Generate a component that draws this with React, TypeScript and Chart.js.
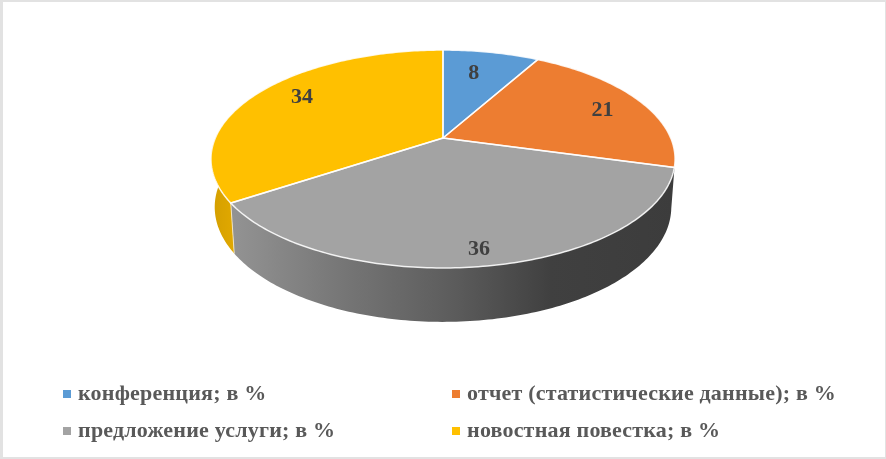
import React, { useEffect, useRef } from "react";
import { Chart, registerables } from "chart.js";

Chart.register(...registerables);

const categories = [
  "конференция; в %",
  "отчет (статистические данные); в %",
  "предложение услуги; в %",
  "новостная повестка; в %",
];
const shares = [8, 21, 36, 34];
const sliceColors = ["#5B9BD5", "#ED7D31", "#A3A3A3", "#FFC000"];

// Perspective projection of the unit disc on to the page
const P = 0.1927;
const CX = 443;
const TOP = { y: 138, bx: 227.7, ay: 104.9 };
const BOTTOM = { y: 185, bx: 224, ay: 110.5 };
const project = (angle: number, r: number, g: { y: number; bx: number; ay: number }) => {
  const a = angle + Math.PI / 2; // 0 = twelve o'clock
  const u = Math.sin(a) * r;
  const v = -Math.cos(a) * r;
  const w = 1 - P * v;
  return [CX + (g.bx * u) / w, g.y + (g.ay * v) / w];
};

const labelRadius = [0.75, 0.8, 0.88, 0.75];
const labelNudge = [[-7, 2], [1, 3], [-2, 2], [0, -6]];

const trace = (ctx: CanvasRenderingContext2D, from: number, to: number, g: typeof TOP, first: boolean) => {
  const n = Math.max(2, Math.ceil(Math.abs(to - from) * 60));
  for (let i = 0; i <= n; i++) {
    const [x, y] = project(from + ((to - from) * i) / n, 1, g);
    if (i === 0 && first) ctx.moveTo(x, y);
    else ctx.lineTo(x, y);
  }
};

const pie3d = {
  id: "pie3d",
  beforeDatasetsDraw(chart: any) {
    const ctx: CanvasRenderingContext2D = chart.ctx;
    const arcs = chart.getDatasetMeta(0).data;
    const silhouette = 4.75 - Math.PI / 2; // where the left wall disappears
    const rightEdge = arcs[1].endAngle;

    // side walls
    const yellowSeam = arcs[3].startAngle;
    ctx.save();
    ctx.beginPath();
    trace(ctx, yellowSeam, silhouette, TOP, true);
    trace(ctx, silhouette, yellowSeam, BOTTOM, false);
    ctx.closePath();
    const yg = ctx.createLinearGradient(212, 0, 238, 0);
    yg.addColorStop(0, "#d49f00");
    yg.addColorStop(1, "#e3aa00");
    ctx.fillStyle = yg;
    ctx.fill();

    const right = rightEdge - 0.06;
    ctx.beginPath();
    trace(ctx, right, yellowSeam, TOP, true);
    trace(ctx, yellowSeam, right, BOTTOM, false);
    ctx.closePath();
    const gg = ctx.createLinearGradient(232, 0, 675, 0);
    gg.addColorStop(0, "#939393");
    gg.addColorStop(0.25, "#767676");
    gg.addColorStop(0.5, "#5c5c5c");
    gg.addColorStop(0.72, "#404040");
    gg.addColorStop(1, "#3c3c3c");
    ctx.fillStyle = gg;
    ctx.fill();

    // pale seam down the wall
    ctx.strokeStyle = "rgba(255,240,200,0.8)";
    ctx.lineWidth = 1;
    ctx.beginPath();
    const a = project(yellowSeam, 1, TOP);
    const b = project(yellowSeam, 1, BOTTOM);
    ctx.moveTo(a[0], a[1]);
    ctx.lineTo(b[0], b[1]);
    ctx.stroke();

    // top faces
    arcs.forEach((arc: any) => {
      ctx.beginPath();
      const c = project(0, 0, TOP);
      ctx.moveTo(c[0], c[1]);
      trace(ctx, arc.startAngle, arc.endAngle, TOP, false);
      ctx.closePath();
      ctx.fillStyle = arc.options.backgroundColor;
      ctx.fill();
    });
    arcs.forEach((arc: any) => {
      ctx.beginPath();
      const c = project(0, 0, TOP);
      ctx.moveTo(c[0], c[1]);
      trace(ctx, arc.startAngle, arc.endAngle, TOP, false);
      ctx.closePath();
      ctx.strokeStyle = "rgba(255,255,255,0.85)";
      ctx.lineWidth = 1.5;
      ctx.stroke();
    });

    // value labels
    ctx.font = "bold 22px 'Liberation Serif'";
    ctx.fillStyle = "#404040";
    ctx.textAlign = "center";
    ctx.textBaseline = "middle";
    arcs.forEach((arc: any, i: number) => {
      const mid = (arc.startAngle + arc.endAngle) / 2;
      const [x, y] = project(mid, labelRadius[i], TOP);
      ctx.fillText(String(chart.data.datasets[0].data[i]), x + labelNudge[i][0], y + labelNudge[i][1]);
    });
    ctx.restore();
    return false;
  },
  afterDraw(chart: any) {
    const ctx: CanvasRenderingContext2D = chart.ctx;
    const cols = [63, 452];
    const rows = [394, 431];
    ctx.save();
    ctx.font = "bold 22px 'Liberation Serif'";
    (ctx as any).letterSpacing = "0.2px";
    ctx.textAlign = "left";
    ctx.textBaseline = "middle";
    chart.data.labels.forEach((label: string, i: number) => {
      const x = cols[i % 2];
      const y = rows[Math.floor(i / 2)];
      ctx.fillStyle = sliceColors[i];
      ctx.fillRect(x, y - 4, 8, 8);
      ctx.fillStyle = "#595959";
      ctx.fillText(label, x + 15, y);
    });
    ctx.restore();
  },
};

export default function App() {
  const ref = useRef<HTMLCanvasElement>(null);
  useEffect(() => {
    const chart = new Chart(ref.current!, {
      type: "pie",
      data: {
        labels: categories,
        datasets: [{ data: shares, backgroundColor: sliceColors }],
      },
      options: {
        animation: false,
        responsive: false,
        plugins: { legend: { display: false }, tooltip: { enabled: false } },
      },
      plugins: [pie3d],
    } as any);
    return () => chart.destroy();
  }, []);
  return (
    <div
      style={{
        position: "fixed",
        left: 0,
        top: 0,
        width: 886,
        height: 459,
        boxSizing: "border-box",
        background: "#fff",
      }}
    >
      <canvas ref={ref} width={886} height={459} style={{ display: "block", filter: "blur(0.6px)" }} />
      <div
        style={{
          position: "absolute",
          inset: 0,
          boxSizing: "border-box",
          borderStyle: "solid",
          borderColor: "#e2e2e2",
          borderWidth: "2px 1px 2px 3px",
        }}
      />
    </div>
  );
}
